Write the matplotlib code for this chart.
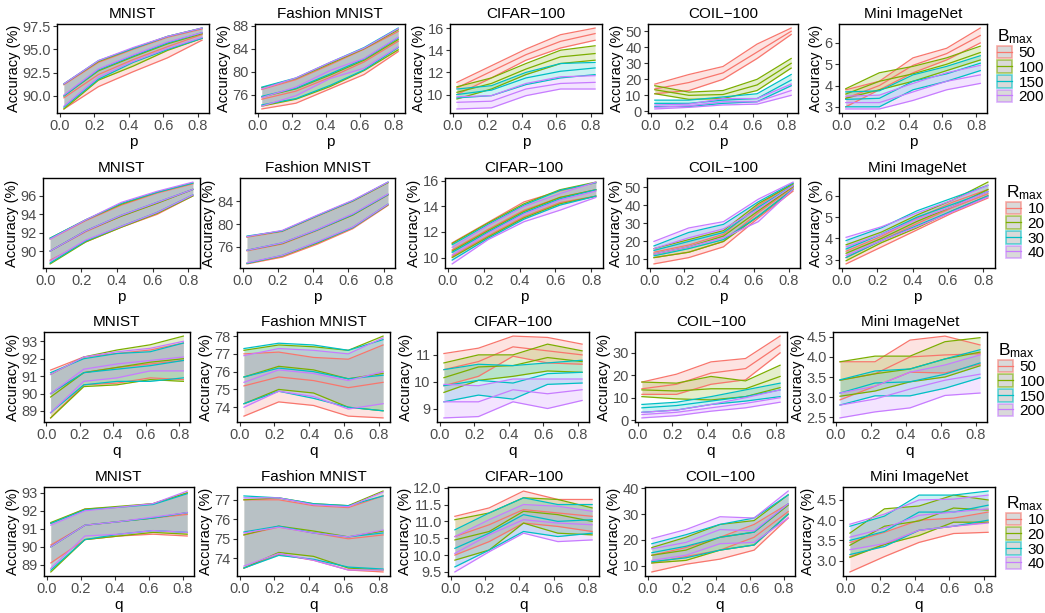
import matplotlib
matplotlib.use("Agg")
import matplotlib.pyplot as plt
from matplotlib.patches import Patch
from matplotlib.lines import Line2D
from matplotlib.colors import to_rgba

plt.rcParams['font.family'] = ['Liberation Sans', 'DejaVu Sans']

# ---------------- data ----------------
X_VALUES = [0.025, 0.225, 0.425, 0.625, 0.825]
X_TICKS = [0.0, 0.2, 0.4, 0.6, 0.8]
SERIES_COLORS = ['#F8766D', '#7CAE00', '#00BFC4', '#C77CFF']
B_LABELS = ['50', '100', '150', '200']
R_LABELS = ['10', '20', '30', '40']
DATASETS = ['MNIST', 'Fashion MNIST', 'CIFAR\u2212100', 'COIL\u2212100', 'Mini ImageNet']

# Row 1: p, B_max
MNIST_PB_HI = [[91.2, 93.6, 95.0, 96.3, 97.2], [91.3, 93.7, 95.1, 96.4, 97.3], [91.3, 93.8, 95.1, 96.4, 97.3], [91.3, 93.8, 95.2, 96.4, 97.3]]
MNIST_PB_MID = [[89.8, 92.3, 93.9, 95.3, 96.6], [90.0, 92.7, 94.2, 95.6, 96.7], [90.0, 92.8, 94.3, 95.7, 96.8], [90.1, 92.9, 94.4, 95.8, 96.8]]
MNIST_PB_LO = [[88.6, 91.0, 92.6, 94.1, 96.0], [88.6, 91.7, 93.2, 94.9, 96.2], [88.8, 91.8, 93.6, 95.0, 96.2], [88.9, 92.0, 93.7, 95.1, 96.3]]

FASHION_PB_HI = [[76.9, 78.6, 81.2, 83.9, 87.0], [77.2, 78.8, 81.4, 84.0, 87.3], [77.3, 78.9, 81.6, 84.2, 87.6], [77.0, 78.9, 81.6, 84.1, 87.5]]
FASHION_PB_MID = [[75.2, 76.6, 79.0, 81.7, 85.3], [75.6, 77.0, 79.4, 82.0, 85.6], [75.7, 77.1, 79.6, 82.2, 85.9], [75.5, 77.3, 80.2, 82.3, 86.0]]
FASHION_PB_LO = [[73.5, 74.5, 77.0, 79.5, 83.5], [74.0, 75.2, 77.4, 80.2, 83.8], [74.2, 75.3, 77.6, 80.3, 84.2], [74.0, 75.8, 78.8, 80.6, 84.3]]

CIFAR_PB_HI = [[11.1, 12.6, 14.1, 15.4, 16.0], [10.7, 11.5, 12.8, 14.0, 14.4], [10.5, 10.8, 12.0, 12.8, 12.9], [9.8, 9.9, 11.0, 11.6, 11.7]]
CIFAR_PB_MID = [[10.6, 12.1, 13.6, 14.8, 15.5], [10.2, 11.0, 12.3, 13.4, 13.7], [10.0, 10.4, 11.5, 12.1, 12.4], [9.3, 9.4, 10.5, 11.0, 11.1]]
CIFAR_PB_LO = [[10.0, 11.5, 13.1, 14.2, 14.9], [9.6, 10.5, 11.8, 12.8, 13.1], [9.7, 9.9, 10.9, 11.5, 11.8], [8.7, 8.8, 9.9, 10.5, 10.5]]

COIL_PB_HI = [[17, 23, 28, 42, 52], [16, 12, 13, 20, 33], [7, 7, 9, 11, 23], [4, 4.5, 8, 8, 17]]
COIL_PB_MID = [[14, 18, 24, 37, 50], [13.5, 10, 10.5, 16.5, 30], [5, 5, 7, 8, 19.5], [2.5, 3.5, 6, 6, 13]]
COIL_PB_LO = [[11, 13, 20, 33, 48], [11, 7.5, 8, 13, 27], [3, 3, 5, 6, 16], [1.5, 2.5, 4, 4.5, 10]]

MINI_PB_HI = [[3.8, 4.2, 5.3, 5.75, 6.7], [3.85, 4.6, 4.9, 5.3, 5.85], [3.7, 3.75, 4.5, 4.9, 5.4], [3.5, 3.55, 4.1, 4.6, 4.95]]
MINI_PB_MID = [[3.4, 4.0, 4.95, 5.5, 6.35], [3.6, 4.2, 4.55, 5.0, 5.55], [3.35, 3.4, 4.2, 4.55, 5.05], [3.2, 3.2, 3.7, 4.2, 4.5]]
MINI_PB_LO = [[3.0, 3.8, 4.6, 5.2, 6.0], [3.4, 3.8, 4.2, 4.7, 5.2], [3.0, 3.0, 3.8, 4.2, 4.7], [2.9, 2.9, 3.3, 3.8, 4.1]]

# Row 2: p, R_max
MNIST_PR_HI = [[91.3, 93.3, 95.0, 96.3, 97.3], [91.4, 93.4, 95.1, 96.4, 97.4], [91.4, 93.4, 95.2, 96.4, 97.4], [91.3, 93.4, 95.3, 96.5, 97.5]]
MNIST_PR_MID = [[90.0, 92.1, 93.8, 95.2, 96.7], [90.0, 92.2, 93.8, 95.2, 96.7], [90.0, 92.2, 93.9, 95.3, 96.7], [90.0, 92.2, 93.9, 95.3, 96.7]]
MNIST_PR_LO = [[89.0, 91.0, 92.6, 94.0, 96.0], [88.6, 91.0, 92.6, 94.1, 96.0], [88.7, 91.1, 92.7, 94.2, 96.1], [88.9, 91.2, 92.7, 94.2, 96.1]]

FASHION_PR_HI = [[77.7, 78.7, 81.4, 84.0, 87.3], [77.8, 78.8, 81.5, 84.1, 87.3], [77.9, 78.8, 81.5, 84.1, 87.4], [77.8, 78.9, 81.6, 84.2, 87.4]]
FASHION_PR_MID = [[75.3, 76.5, 78.9, 81.6, 85.1], [75.4, 76.6, 79.0, 81.6, 85.2], [75.4, 76.7, 79.0, 81.7, 85.2], [75.4, 76.7, 79.1, 81.8, 85.3]]
FASHION_PR_LO = [[73.0, 74.2, 76.5, 79.2, 83.3], [73.1, 74.4, 76.7, 79.4, 83.4], [73.1, 74.5, 76.8, 79.4, 83.5], [73.2, 74.5, 76.9, 79.5, 83.5]]

CIFAR_PR_HI = [[11.15, 12.75, 14.35, 15.2, 15.85], [11.1, 12.7, 14.2, 15.3, 15.9], [11.0, 12.6, 14.1, 15.25, 15.85], [10.8, 12.5, 14.0, 15.0, 15.9]]
CIFAR_PR_MID = [[10.6, 12.2, 13.7, 14.7, 15.3], [10.5, 12.1, 13.6, 14.7, 15.3], [10.4, 12.0, 13.5, 14.6, 15.3], [10.2, 11.9, 13.4, 14.5, 15.2]]
CIFAR_PR_LO = [[10.1, 11.7, 13.2, 14.3, 14.8], [10.0, 11.6, 13.1, 14.2, 14.8], [9.8, 11.5, 13.0, 14.1, 14.8], [9.5, 11.4, 12.8, 13.7, 14.7]]

COIL_PR_HI = [[14, 18, 24, 40, 52], [16, 21, 26, 41, 52], [17.5, 25, 29.5, 42, 52.5], [20, 27.5, 31, 43.5, 53]]
COIL_PR_MID = [[11, 14, 20, 36, 50], [13, 17, 23, 37, 50.5], [15, 20, 25, 39, 51], [16, 22, 27, 38, 51]]
COIL_PR_LO = [[7.5, 11, 17, 33, 48], [11, 14, 20, 34, 49], [12, 16, 21, 34, 49], [13, 17, 22, 31, 49]]

MINI_PR_HI = [[3.4, 4.1, 4.95, 5.7, 6.3], [3.7, 4.3, 5.1, 5.8, 6.65], [3.9, 4.5, 5.3, 5.9, 6.5], [4.05, 4.55, 5.2, 5.8, 6.5]]
MINI_PR_MID = [[3.1, 3.9, 4.7, 5.45, 6.1], [3.3, 4.0, 4.8, 5.5, 6.3], [3.5, 4.2, 5.0, 5.6, 6.2], [3.6, 4.2, 4.9, 5.5, 6.2]]
MINI_PR_LO = [[2.8, 3.6, 4.4, 5.2, 5.9], [2.95, 3.8, 4.5, 5.3, 6.0], [3.1, 3.9, 4.6, 5.3, 6.0], [3.2, 3.9, 4.55, 5.25, 5.95]]

# Row 3: q, B_max
MNIST_QB_HI = [[91.35, 92.1, 92.3, 92.5, 92.9], [91.1, 92.1, 92.5, 92.8, 93.3], [91.2, 92.0, 92.3, 92.4, 92.9], [91.1, 92.1, 92.4, 92.6, 93.0]]
MNIST_QB_MID = [[90.0, 91.2, 91.5, 91.7, 91.9], [89.8, 91.2, 91.5, 91.8, 92.0], [90.0, 91.2, 91.4, 91.6, 91.9], [90.0, 91.4, 91.7, 91.9, 92.1]]
MNIST_QB_LO = [[88.6, 90.5, 90.6, 90.9, 90.8], [88.6, 90.4, 90.5, 90.8, 90.7], [88.9, 90.5, 90.7, 90.7, 90.9], [88.9, 90.7, 90.9, 91.3, 91.3]]

FASHION_QB_HI = [[77.0, 77.1, 76.8, 76.7, 77.5], [77.2, 77.5, 77.4, 77.2, 78.0], [77.3, 77.6, 77.5, 77.2, 77.8], [76.9, 77.3, 77.2, 77.0, 77.9]]
FASHION_QB_MID = [[75.2, 75.7, 75.5, 75.1, 75.4], [75.7, 76.3, 76.1, 75.6, 75.9], [75.7, 76.2, 76.0, 75.6, 75.8], [75.4, 76.1, 75.9, 75.5, 76.0]]
FASHION_QB_LO = [[73.5, 74.3, 74.1, 73.5, 73.4], [74.2, 75.0, 74.8, 74.0, 73.8], [74.2, 74.9, 74.5, 74.0, 73.8], [74.0, 74.9, 74.6, 73.9, 74.2]]

CIFAR_QB_HI = [[11.05, 11.25, 11.7, 11.65, 11.4], [10.7, 11.0, 11.0, 11.4, 11.15], [10.45, 10.65, 10.6, 10.7, 10.8], [9.9, 9.85, 10.1, 10.1, 10.1]]
CIFAR_QB_MID = [[10.45, 10.75, 11.3, 11.15, 11.0], [10.15, 10.55, 10.6, 10.9, 10.75], [9.85, 10.05, 9.95, 10.3, 10.35], [9.25, 9.25, 9.7, 9.55, 9.7]]
CIFAR_QB_LO = [[9.85, 10.2, 10.95, 10.7, 10.65], [9.6, 10.05, 10.2, 10.4, 10.35], [9.25, 9.5, 9.35, 9.9, 9.95], [8.65, 8.7, 9.25, 9.0, 9.3]]

COIL_QB_HI = [[17, 20.5, 26, 27.5, 37.5], [17, 16.5, 19.5, 17.5, 24.5], [7, 8, 10.5, 13.5, 16.5], [3.5, 4.5, 7, 10, 13.5]]
COIL_QB_MID = [[14, 16, 21, 23, 33.5], [13.5, 13, 14, 14, 19.5], [5.5, 6.5, 8.5, 10.5, 13.5], [2.5, 3.5, 5.5, 7.5, 10]]
COIL_QB_LO = [[11.5, 11.5, 16, 18, 30], [10.5, 9.5, 9, 10.5, 14.5], [3.5, 4.5, 7, 8.5, 10.5], [1, 2, 4, 5.5, 8]]

MINI_QB_HI = [[3.88, 3.88, 4.42, 4.52, 4.3], [3.88, 4.02, 4.02, 4.38, 4.48], [3.43, 3.65, 3.7, 3.95, 4.18], [3.1, 3.27, 3.62, 3.8, 4.05]]
MINI_QB_MID = [[3.42, 3.58, 4.0, 4.05, 4.08], [3.42, 3.58, 3.7, 3.95, 4.12], [3.1, 3.35, 3.38, 3.57, 3.85], [2.8, 2.95, 3.2, 3.42, 3.57]]
MINI_QB_LO = [[2.93, 3.27, 3.62, 3.6, 3.82], [3.02, 3.15, 3.38, 3.5, 3.78], [2.8, 3.03, 3.03, 3.22, 3.48], [2.48, 2.63, 2.73, 3.04, 3.1]]

# Row 4: q, R_max
MNIST_QR_HI = [[91.3, 92.1, 92.2, 92.4, 93.0], [91.35, 92.1, 92.25, 92.4, 93.0], [91.3, 92.05, 92.2, 92.35, 92.95], [91.2, 92.0, 92.2, 92.4, 93.1]]
MNIST_QR_MID = [[90.1, 91.2, 91.4, 91.6, 91.8], [90.0, 91.2, 91.4, 91.6, 91.9], [90.0, 91.2, 91.4, 91.6, 91.9], [90.0, 91.2, 91.4, 91.65, 91.9]]
MNIST_QR_LO = [[89.1, 90.4, 90.6, 90.7, 90.6], [88.6, 90.4, 90.6, 90.8, 90.7], [88.7, 90.4, 90.7, 90.9, 90.8], [88.8, 90.6, 90.7, 90.9, 90.8]]

FASHION_QR_HI = [[77.0, 77.0, 76.7, 76.6, 77.2], [77.0, 77.1, 76.8, 76.7, 77.45], [77.2, 77.1, 76.8, 76.7, 77.2], [77.1, 77.1, 76.75, 76.65, 77.4]]
FASHION_QR_MID = [[75.2, 75.6, 75.3, 75.0, 75.2], [75.2, 75.65, 75.4, 75.1, 75.4], [75.35, 75.65, 75.3, 75.1, 75.3], [75.3, 75.6, 75.3, 75.1, 75.45]]
FASHION_QR_LO = [[73.5, 74.2, 73.9, 73.4, 73.3], [73.5, 74.3, 74.1, 73.5, 73.4], [73.5, 74.15, 73.95, 73.55, 73.45], [73.6, 74.25, 73.9, 73.4, 73.4]]

CIFAR_QR_HI = [[11.15, 11.4, 11.9, 11.65, 11.65], [11.05, 11.25, 11.7, 11.65, 11.4], [10.75, 11.25, 11.7, 11.5, 11.5], [10.55, 11.05, 11.5, 11.45, 11.3]]
CIFAR_QR_MID = [[10.55, 10.9, 11.35, 11.25, 11.15], [10.45, 10.7, 11.3, 11.2, 11.0], [10.2, 10.65, 11.2, 11.0, 11.05], [10.05, 10.6, 11.05, 10.95, 10.9]]
CIFAR_QR_LO = [[10.0, 10.4, 10.95, 10.85, 10.7], [9.85, 10.15, 10.95, 10.65, 10.6], [9.65, 10.15, 10.7, 10.55, 10.65], [9.5, 10.1, 10.65, 10.4, 10.45]]

COIL_QR_HI = [[14, 17, 21, 26, 34], [17, 21, 26, 27.5, 37.5], [18.5, 22, 26, 28.5, 37.5], [20.5, 24, 29, 28.5, 39]]
COIL_QR_MID = [[11, 13.5, 16, 21, 31], [14, 16, 21, 23, 33.5], [15, 17.5, 21, 23, 34], [16.5, 19, 24, 23.5, 34]]
COIL_QR_LO = [[7.5, 10.5, 12.5, 16, 28.5], [11, 12, 16, 18, 30], [11.5, 13, 16, 18, 30], [12, 14, 18.5, 19, 28.5]]

MINI_QR_HI = [[3.45, 3.7, 4.0, 4.05, 4.2], [3.68, 4.28, 4.35, 4.62, 4.5], [3.85, 4.1, 4.62, 4.62, 4.72], [3.9, 4.15, 4.5, 4.52, 4.62]]
MINI_QR_MID = [[3.1, 3.4, 3.75, 3.85, 3.95], [3.38, 3.85, 3.98, 4.3, 4.25], [3.5, 3.72, 4.2, 4.2, 4.37], [3.58, 3.8, 4.12, 4.2, 4.28]]
MINI_QR_LO = [[2.72, 3.1, 3.45, 3.67, 3.7], [3.08, 3.4, 3.62, 3.95, 3.95], [3.15, 3.35, 3.75, 3.85, 4.0], [3.27, 3.42, 3.75, 3.85, 3.93]]

# y ticks per panel
YT_R1 = [[90.0, 92.5, 95.0, 97.5], [76, 80, 84, 88], [10, 12, 14, 16], [0, 10, 20, 30, 40, 50], [3, 4, 5, 6]]
YL_R1 = [['90.0', '92.5', '95.0', '97.5'], ['76', '80', '84', '88'], ['10', '12', '14', '16'], ['0', '10', '20', '30', '40', '50'], ['3', '4', '5', '6']]
YT_R2 = [[90, 92, 94, 96], [76, 80, 84], [10, 12, 14, 16], [10, 20, 30, 40, 50], [3, 4, 5, 6]]
YL_R2 = [['90', '92', '94', '96'], ['76', '80', '84'], ['10', '12', '14', '16'], ['10', '20', '30', '40', '50'], ['3', '4', '5', '6']]
YT_R3 = [[89, 90, 91, 92, 93], [74, 75, 76, 77, 78], [9, 10, 11], [0, 10, 20, 30], [2.5, 3.0, 3.5, 4.0, 4.5]]
YL_R3 = [['89', '90', '91', '92', '93'], ['74', '75', '76', '77', '78'], ['9', '10', '11'], ['0', '10', '20', '30'], ['2.5', '3.0', '3.5', '4.0', '4.5']]
YT_R4 = [[89, 90, 91, 92, 93], [74, 75, 76, 77], [9.5, 10.0, 10.5, 11.0, 11.5, 12.0], [10, 20, 30, 40], [3.0, 3.5, 4.0, 4.5]]
YL_R4 = [['89', '90', '91', '92', '93'], ['74', '75', '76', '77'], ['9.5', '10.0', '10.5', '11.0', '11.5', '12.0'], ['10', '20', '30', '40'], ['3.0', '3.5', '4.0', '4.5']]

ROWS = [
    dict(xlabel='p', legend='B', labels=B_LABELS, yt=YT_R1, yl=YL_R1,
         panels=[(MNIST_PB_LO, MNIST_PB_MID, MNIST_PB_HI), (FASHION_PB_LO, FASHION_PB_MID, FASHION_PB_HI),
                 (CIFAR_PB_LO, CIFAR_PB_MID, CIFAR_PB_HI), (COIL_PB_LO, COIL_PB_MID, COIL_PB_HI),
                 (MINI_PB_LO, MINI_PB_MID, MINI_PB_HI)]),
    dict(xlabel='p', legend='R', labels=R_LABELS, yt=YT_R2, yl=YL_R2,
         panels=[(MNIST_PR_LO, MNIST_PR_MID, MNIST_PR_HI), (FASHION_PR_LO, FASHION_PR_MID, FASHION_PR_HI),
                 (CIFAR_PR_LO, CIFAR_PR_MID, CIFAR_PR_HI), (COIL_PR_LO, COIL_PR_MID, COIL_PR_HI),
                 (MINI_PR_LO, MINI_PR_MID, MINI_PR_HI)]),
    dict(xlabel='q', legend='B', labels=B_LABELS, yt=YT_R3, yl=YL_R3,
         panels=[(MNIST_QB_LO, MNIST_QB_MID, MNIST_QB_HI), (FASHION_QB_LO, FASHION_QB_MID, FASHION_QB_HI),
                 (CIFAR_QB_LO, CIFAR_QB_MID, CIFAR_QB_HI), (COIL_QB_LO, COIL_QB_MID, COIL_QB_HI),
                 (MINI_QB_LO, MINI_QB_MID, MINI_QB_HI)]),
    dict(xlabel='q', legend='R', labels=R_LABELS, yt=YT_R4, yl=YL_R4,
         panels=[(MNIST_QR_LO, MNIST_QR_MID, MNIST_QR_HI), (FASHION_QR_LO, FASHION_QR_MID, FASHION_QR_HI),
                 (CIFAR_QR_LO, CIFAR_QR_MID, CIFAR_QR_HI), (COIL_QR_LO, COIL_QR_MID, COIL_QR_HI),
                 (MINI_QR_LO, MINI_QR_MID, MINI_QR_HI)]),
]

# ---------------- layout (pixel boxes: left, right) ----------------
W, H = 1045, 613
ROW_Y = [(24, 113), (178, 268), (332, 422), (487, 576)]
COL_X = [
    [(57, 209), (255, 405), (450, 602), (648, 798), (839, 987)],
    [(43, 200), (240, 395), (445, 603), (647, 800), (839, 995)],
    [(44, 190), (237, 390), (437, 589), (635, 787), (833, 987)],
    [(44, 194), (237, 390), (448, 599), (645, 795), (843, 995)],
]
LEGEND_POS = [(997, 27), (1006, 183), (998, 341), (1006, 494)]

FS = 10.5
TICK_COLOR = '#4D4D4D'

fig = plt.figure(figsize=(W / 100, H / 100), dpi=100)

for r, row in enumerate(ROWS):
    t, b = ROW_Y[r]
    for c in range(5):
        l, rr = COL_X[r][c]
        ax = fig.add_axes([l / W, 1 - b / H, (rr - l) / W, (b - t) / H])
        lo_all, mid_all, hi_all = row['panels'][c]
        for s in range(4):
            col = SERIES_COLORS[s]
            ax.fill_between(X_VALUES, lo_all[s], hi_all[s], color=col, alpha=0.2, linewidth=0)
            for arr in (lo_all[s], mid_all[s], hi_all[s]):
                ax.plot(X_VALUES, arr, color=col, linewidth=0.9)
        ymin = min(min(v) for v in lo_all)
        ymax = max(max(v) for v in hi_all)
        pad = 0.05 * (ymax - ymin)
        ax.set_ylim(ymin - pad, ymax + pad)
        ax.set_xlim(-0.015, 0.865)
        ax.set_xticks(X_TICKS)
        ax.set_xticklabels(['0.0', '0.2', '0.4', '0.6', '0.8'])
        ax.set_yticks(row['yt'][c])
        ax.set_yticklabels(row['yl'][c])
        ax.tick_params(direction='out', length=3, width=0.8, color='#333333',
                       labelcolor=TICK_COLOR, labelsize=FS, pad=1.5)
        for sp in ax.spines.values():
            sp.set_color('black')
            sp.set_linewidth(1.0)
        ax.set_title(DATASETS[c], fontsize=FS + 0.5, pad=4)
        ax.set_ylabel('Accuracy (%)', fontsize=FS, labelpad=1)
        ax.set_xlabel(row['xlabel'], fontsize=FS + 0.5, labelpad=1)
        if c == 4:
            handles = []
            for s in range(4):
                col = SERIES_COLORS[s]
                p = Patch(facecolor='#D9D9D9', edgecolor=to_rgba(col, 0.6), linewidth=1.2)
                ln = Line2D([], [], color=col, linewidth=0.9)
                handles.append((p, ln))
            title = r'$\mathregular{%s_{max}}$' % row['legend']
            lx, ly = LEGEND_POS[r]
            leg = fig.legend(handles, row['labels'], title=title, loc='upper left',
                             bbox_to_anchor=(lx / W, 1 - ly / H), bbox_transform=fig.transFigure,
                             frameon=False, fontsize=FS + 0.5, title_fontsize=FS + 2,
                             handlelength=0.95, handleheight=0.9, labelspacing=0.0,
                             handletextpad=0.45, borderpad=0, borderaxespad=0)
            leg._legend_box.align = 'left'

fig.savefig('out.png', dpi=100)
